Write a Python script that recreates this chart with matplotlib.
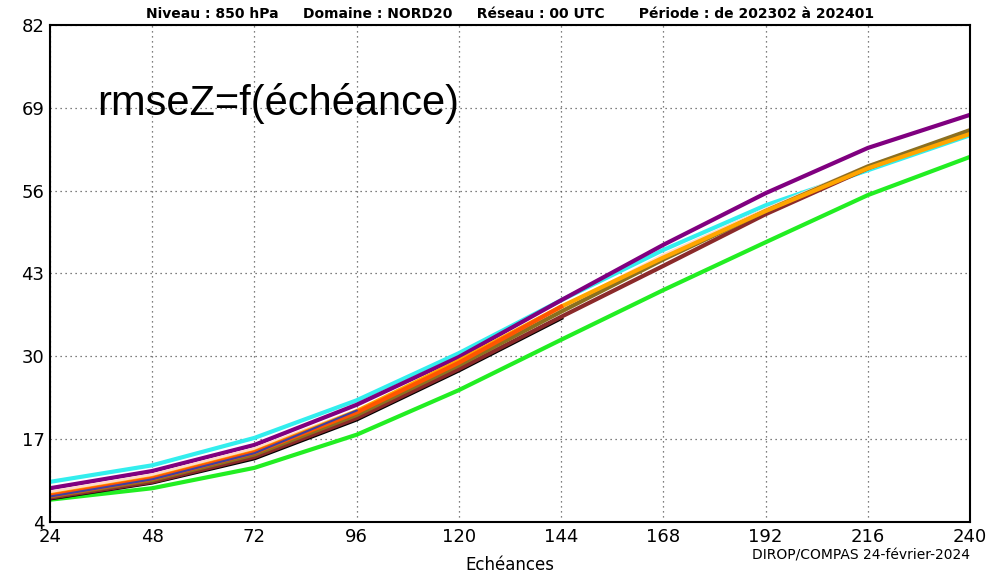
import matplotlib
matplotlib.use("Agg")
import matplotlib.pyplot as plt

# echeances (h) and rmse of Z at 850 hPa per experiment
ech = [24, 48, 72, 96, 120, 144, 168, 192, 216, 240]

cyan = [10.3, 12.9, 17.2, 23.1, 30.5, 38.8, 46.7, 53.7, 59.2, 64.7]
purple = [9.3, 12.0, 16.1, 22.4, 29.9, 38.8, 47.5, 55.6, 62.7, 67.9]
pink = [8.6, 11.3, 15.4, 21.4, 29.0, 37.5, 45.8, 53.0, 59.8, 65.2]
orange = [8.2, 10.9, 15.0, 21.4, 29.3, 37.8, 45.5, 52.8, 59.5, 64.9]
olive = [8.0, 10.6, 14.6, 20.8, 28.6, 37.0, 45.2, 52.8, 59.8, 65.5]
maroon = [7.8, 10.3, 14.2, 20.3, 28.0, 36.2, 44.2, 52.3, 59.5, 65.4]
black = [7.7, 10.2, 14.0, 20.1, 27.8, 36.0]
orangered = [8.1, 10.8, 14.9, 21.2, 29.0, 37.8]
blue = [8.0, 10.7, 14.8, 21.5]
green = [7.5, 9.3, 12.5, 17.7, 24.7, 32.6, 40.4, 47.9, 55.3, 61.3]

yticks = [4, 17, 30, 43, 56, 69, 82]

fig = plt.figure(figsize=(10, 5.77), dpi=100)
ax = fig.add_axes([0.05, 0.0953, 0.92, 0.8614])

lw = 3.0
ax.plot(ech, cyan, color="#33eeee", lw=lw)
ax.plot(ech, purple, color="#800080", lw=lw)
ax.plot(ech, pink, color="#ffd8c8", lw=lw)
ax.plot(ech, green, color="#22ee22", lw=lw)
ax.plot(ech[:len(black)], black, color="black", lw=lw)
ax.plot(ech, maroon, color="#8b2a2a", lw=lw)
ax.plot(ech, olive, color="#8b7020", lw=lw)
ax.plot(ech, orange, color="#ffa500", lw=lw)
ax.plot(ech[:len(orangered)], orangered, color="#ff5500", lw=lw)
ax.plot(ech[:len(blue)], blue, color="#4040a0", lw=1.5)

ax.set_xlim(24, 240)
ax.set_ylim(4, 82)
ax.set_xticks(ech)
ax.set_yticks(yticks)
ax.tick_params(labelsize=13, length=0, pad=4)
ax.grid(True, color="#555555", linestyle=(0, (1, 3)), linewidth=0.9)
for s in ax.spines.values():
    s.set_linewidth(1.5)

ax.text(0.051, 0.843, "rmseZ=f(échéance)", transform=ax.transAxes,
        fontsize=30, family="Liberation Sans", va="center")

fig.text(0.51, 0.975, "Niveau : 850 hPa     Domaine : NORD20     Réseau : 00 UTC       Période : de 202302 à 202401",
         ha="center", va="center", fontsize=10, fontweight="bold")
fig.text(0.51, 0.02, "Echéances", ha="center", va="center", fontsize=12)
fig.text(0.97, 0.038, "DIROP/COMPAS 24-février-2024", ha="right", va="center", fontsize=10)

fig.savefig("out.png", dpi=100)
